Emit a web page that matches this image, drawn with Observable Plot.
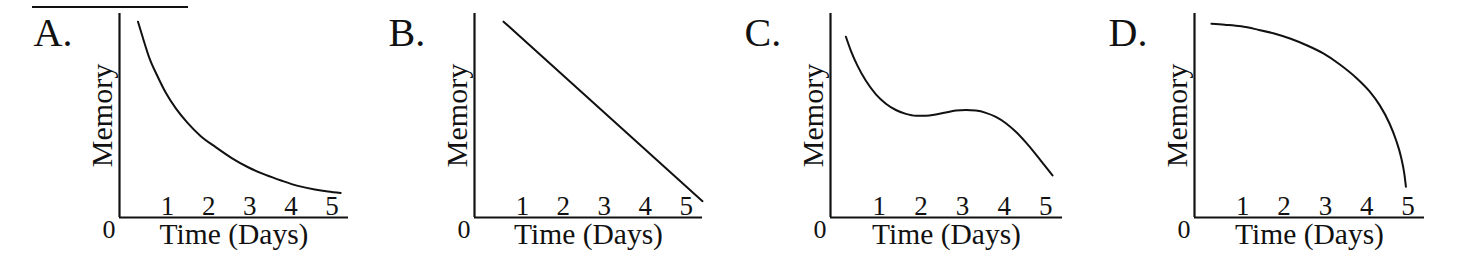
<!DOCTYPE html>
<html><head><meta charset="utf-8">
<script src="https://cdn.jsdelivr.net/npm/d3@7"></script>
<script src="https://cdn.jsdelivr.net/npm/@observablehq/plot@0.6"></script>
<style>
body{margin:0;background:#fff;}
#wrap{position:relative;width:1468px;height:258px;overflow:hidden;background:#fff;}
#wrap svg{position:absolute;top:0;}
.rule{position:absolute;left:32px;top:6px;width:156px;height:2px;background:#111;}
</style></head><body><div id="wrap"><div class="rule"></div></div>
<script>
// ---- data ----
const panelLabels = ["A.", "B.", "C.", "D."];
const dayTicks = [1, 2, 3, 4, 5];
const xLabel = "Time (Days)";
const yLabel = "Memory";
const originLabel = "0";

const daysA = [0.28, 0.40, 0.56, 0.76, 0.96, 1.20, 1.48, 1.80, 2.17, 2.57, 2.97, 3.37, 3.78, 4.17, 4.58, 4.90, 5.21];
const memoryA = [0.96, 0.88, 0.78, 0.69, 0.61, 0.535, 0.465, 0.40, 0.345, 0.29, 0.245, 0.21, 0.18, 0.155, 0.137, 0.127, 0.12];

const daysB = [0.54, 5.40];
const memoryB = [0.96, 0.08];

const daysC = [0.20, 0.32, 0.48, 0.68, 0.92, 1.16, 1.40, 1.64, 1.88, 2.12, 2.36, 2.60, 2.84, 3.08, 3.32, 3.56, 3.80, 4.04, 4.28, 4.52, 4.76, 4.96, 5.16];
const memoryC = [0.886, 0.817, 0.743, 0.670, 0.604, 0.558, 0.527, 0.508, 0.499, 0.499, 0.505, 0.515, 0.524, 0.527, 0.524, 0.513, 0.493, 0.462, 0.420, 0.368, 0.310, 0.258, 0.206];

const daysD = [0.24, 0.56, 0.96, 1.36, 1.76, 2.16, 2.56, 2.95, 3.35, 3.75, 4.07, 4.31, 4.55, 4.71, 4.83, 4.91, 4.95];
const memoryD = [0.95, 0.945, 0.937, 0.921, 0.902, 0.876, 0.843, 0.804, 0.750, 0.684, 0.618, 0.552, 0.462, 0.380, 0.298, 0.216, 0.151];

const seriesDays = [daysA, daysB, daysC, daysD];
const seriesMemory = [memoryA, memoryB, memoryC, memoryD];

// ---- layout ----
const svgLefts = [19, 374, 730, 1094];
const marginRights = [26, 27, 23, 25];
const xDomain = [-0.17, 5.4];
const ink = "#111";
const font = "'Liberation Serif', 'Times New Roman', serif";

function panel(i) {
  const data = seriesDays[i].map((d, k) => ({day: d, memory: seriesMemory[i][k]}));
  const svg = Plot.plot({
    width: 355, height: 258,
    marginLeft: 100, marginRight: marginRights[i], marginTop: 13, marginBottom: 41,
    x: {domain: xDomain, axis: null},
    y: {domain: [0, 1], axis: null},
    style: {background: "transparent", fontFamily: font, color: ink, overflow: "visible"},
    marks: [
      Plot.ruleY([0], {stroke: ink, strokeWidth: 2.2}),
      Plot.ruleX([xDomain[0]], {stroke: ink, strokeWidth: 2.2}),
      Plot.line(data, {x: "day", y: "memory", curve: "monotone-x", stroke: ink, strokeWidth: 2}),
      Plot.text(dayTicks, {x: d => d, y: () => 0, text: d => String(d), dy: -3, lineAnchor: "bottom", fontSize: 27, fill: ink}),
      Plot.text([originLabel], {x: () => xDomain[0], y: () => 0, text: d => d, dx: -4, dy: 20, textAnchor: "end", lineAnchor: "bottom", fontSize: 26, fill: ink}),
      Plot.text([xLabel], {frameAnchor: "bottom", text: d => d, dy: 26, textAnchor: "middle", lineAnchor: "bottom", fontSize: 29.5, fill: ink}),
      Plot.text([yLabel], {frameAnchor: "left", text: d => d, rotate: -90, dx: -8, textAnchor: "middle", lineAnchor: "bottom", fontSize: 30, fill: ink}),
      Plot.text([panelLabels[i]], {frameAnchor: "top-left", text: d => d, dx: -86, dy: 32, textAnchor: "start", lineAnchor: "bottom", fontSize: 40, fill: ink})
    ]
  });
  svg.style.left = svgLefts[i] + "px";
  return svg;
}

const wrap = document.getElementById("wrap");
for (let i = 0; i < 4; i++) wrap.appendChild(panel(i));
</script>
</body></html>
